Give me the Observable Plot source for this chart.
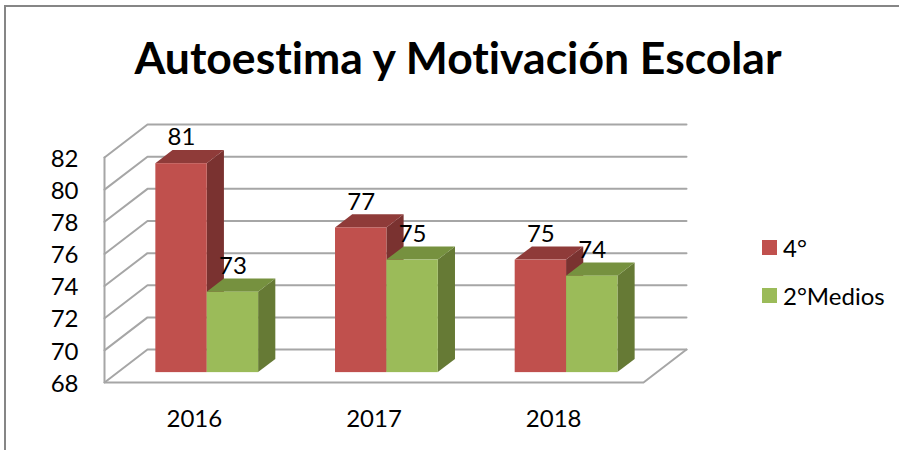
<!DOCTYPE html>
<html lang="es">
<head>
<meta charset="utf-8">
<script src="https://cdn.jsdelivr.net/npm/d3@7"></script>
<script src="https://cdn.jsdelivr.net/npm/@observablehq/plot@0.6"></script>
<style>
  html, body { margin: 0; padding: 0; background: #fff; }
  #chart { position: relative; width: 899px; height: 450px; overflow: hidden; font-family: Lato, sans-serif; color: #000; font-variant-ligatures: none; }
  #chart svg { position: absolute; left: 0; top: 0; font-variant-ligatures: none; }
  #border { position: absolute; left: 4px; top: 5px; right: -4px; bottom: -4px; border-left: 2px solid #868686; border-top: 2px solid #868686; }
  #title { position: absolute; left: 5px; width: 906px; top: 30px; text-align: center; font-size: 44.5px; font-weight: 700; line-height: 54px; white-space: nowrap; }
  .key { position: absolute; left: 762px; font-size: 24px; line-height: 26px; white-space: nowrap; }
  .key i { position: absolute; left: 0; top: 5px; width: 15px; height: 15px; }
  .key span { position: absolute; left: 21px; top: 0; }
</style>
</head>
<body>
<div id="chart">
  <div id="border"></div>
  <div id="title">Autoestima y Motivación Escolar</div>
</div>
<script>
const years = ["2016", "2017", "2018"];
const seriesNames = ["4°", "2°Medios"];
const cuarto = [81, 77, 75];
const medios = [73, 75, 74];
const yTicks = [68, 70, 72, 74, 76, 78, 80, 82];

const fronts = ["#C0504D", "#9BBB59"];
const tops = ["#8F3B39", "#76913F"];
const sides = ["#7A3230", "#667A35"];
const gridColor = "#A6A6A6";
const font = "Lato, sans-serif";

// 3D projection: depth d (0 front wall, 1 back wall) shifts both axes.
const depthX = 43 / 179.67, depthY = 2.05;
const barFront = 0.3, barBack = 0.7, barW = 0.286, yMin = 68, yMax = 82, xMin = -0.5, xMax = 2.5;
const px = (p, d) => p + d * depthX;
const py = (v, d) => v + d * depthY;

const wallLines = yTicks.flatMap((v) => [
  {k: v, x: px(xMin, 0), y: py(v, 0)},
  {k: v, x: px(xMin, 1), y: py(v, 1)},
  {k: v, x: px(xMax, 1), y: py(v, 1)}
]);
const floorLine = [
  {x: px(xMin, 0), y: py(yMax, 0)},
  {x: px(xMin, 0), y: py(yMin, 0)},
  {x: px(xMax, 0), y: py(yMin, 0)},
  {x: px(xMax, 1), y: py(yMin, 1)}
];

function barMarks(values, j) {
  const bars = values.map((v, i) => {
    const l = i + (j - 1) * barW;
    return {i, v, l, r: l + barW};
  });
  const side = bars.flatMap((b) => [
    {k: b.i, x1: px(b.r, barFront), x2: px(b.r, barFront), y1: py(yMin, barFront), y2: py(b.v, barFront)},
    {k: b.i, x1: px(b.r, barBack), x2: px(b.r, barBack), y1: py(yMin, barBack), y2: py(b.v, barBack)}
  ]);
  const top = bars.flatMap((b) => [
    {k: b.i, x1: px(b.l, barFront), x2: px(b.r, barFront), y1: py(b.v, barFront), y2: py(b.v, barFront)},
    {k: b.i, x1: px(b.l, barBack), x2: px(b.r, barBack), y1: py(b.v, barBack), y2: py(b.v, barBack)}
  ]);
  return [
    Plot.area(side, {x1: "x1", x2: "x2", y1: "y1", y2: "y2", z: "k", fill: sides[j]}),
    Plot.area(top, {x1: "x1", x2: "x2", y1: "y1", y2: "y2", z: "k", fill: tops[j]}),
    Plot.rect(bars, {
      x1: (b) => px(b.l, barFront), x2: (b) => px(b.r, barFront),
      y1: () => py(yMin, barFront), y2: (b) => py(b.v, barFront),
      fill: fronts[j]
    })
  ];
}

function labelMarks(values, j) {
  return Plot.text(values, {
    x: (v, i) => px(i + (j - 1) * barW + barW / 2, barFront),
    y: (v) => py(v, barFront),
    text: (v) => String(v),
    dy: -26,
    fontSize: 24,
    fontFamily: font,
    fill: "#000"
  });
}

const plot = Plot.plot({
  width: 899,
  height: 450,
  marginLeft: 78,
  marginRight: 0,
  marginTop: 0,
  marginBottom: 48,
  style: {background: "transparent", overflow: "visible"},
  x: {type: "linear", domain: [xMin, xMax], range: [104, 643], axis: null},
  y: {type: "linear", domain: [yMin, yMax], range: [382, 157], axis: null},
  marks: [
    Plot.line(wallLines, {x: "x", y: "y", z: "k", stroke: gridColor, strokeWidth: 2}),
    Plot.line(floorLine, {x: "x", y: "y", stroke: gridColor, strokeWidth: 2}),
    ...barMarks(cuarto, 0),
    ...barMarks(medios, 1),
    labelMarks(cuarto, 0),
    labelMarks(medios, 1),
    Plot.axisY({anchor: "left", ticks: yTicks, tickSize: 0, tickPadding: 0, label: null, fontSize: 24, fontFamily: font, dy: 1.5, fill: "#000"}),
    Plot.axisX({anchor: "bottom", ticks: [0, 1, 2], tickFormat: (i) => years[i], tickSize: 0, tickPadding: 0, label: null, fontSize: 24, fontFamily: font, dy: 7, fill: "#000"})
  ]
});

const chart = document.getElementById("chart");
chart.insertBefore(plot, document.getElementById("border"));

seriesNames.forEach((name, j) => {
  const row = document.createElement("div");
  row.className = "key";
  row.style.top = (235 + j * 48) + "px";
  const sw = document.createElement("i");
  sw.style.background = fronts[j];
  const tx = document.createElement("span");
  tx.textContent = name;
  row.append(sw, tx);
  chart.append(row);
});
</script>
</body>
</html>
